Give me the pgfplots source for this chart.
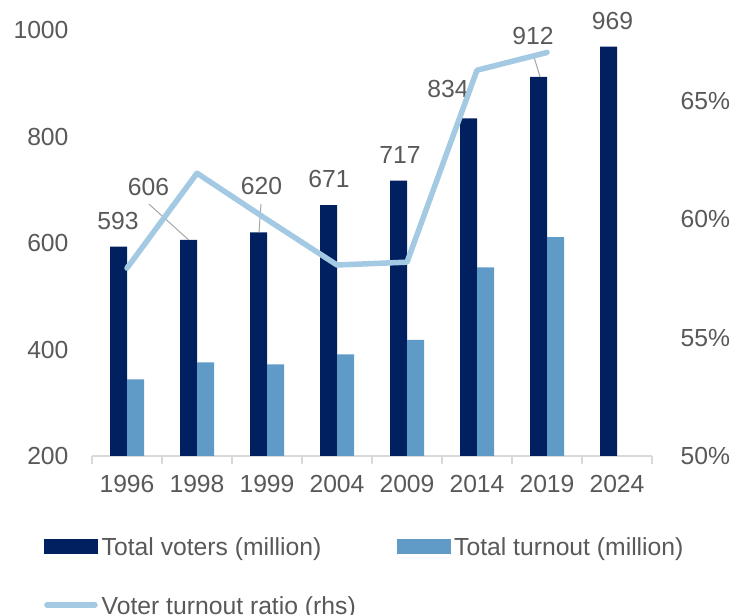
\documentclass[border=0pt]{standalone}
\usepackage{pgfplots}
\pgfplotsset{compat=1.18}
\usepackage{fontspec}
\setmainfont{Liberation Sans}
\definecolor{navy}{HTML}{002060}
\definecolor{midblue}{HTML}{5F9BC6}
\definecolor{lightblue}{HTML}{A3C9E3}
\definecolor{txt}{HTML}{595959}
\definecolor{axgray}{HTML}{D9D9D9}
\definecolor{leader}{HTML}{A6A6A6}
\newcommand{\cf}{\fontsize{24.8}{30}\selectfont}
\begin{document}
\begin{tikzpicture}
\useasboundingbox (0,0) rectangle (740bp,615bp);
\begin{axis}[
  at={(92bp,159bp)}, anchor=south west,
  scale only axis, width=560bp, height=426bp,
  xmin=-0.5, xmax=7.5, ymin=200, ymax=1000,
  ybar=0pt, bar width=17bp,
  axis x line*=bottom, axis y line*=left,
  x axis line style={draw=axgray, line width=1.5bp},
  y axis line style={draw=none},
  xtick={0,1,2,3,4,5,6,7},
  xticklabels={1996,1998,1999,2004,2009,2014,2019,2024},
  minor xtick={-0.5,0.5,1.5,2.5,3.5,4.5,5.5,6.5,7.5},
  xtick align=outside,
  major tick length=0pt, minor tick length=8bp,
  major x tick style={draw=none},
  minor x tick style={draw=axgray, line width=1.5bp},
  ytick={200,400,600,800,1000}, yticklabels={200,400,600,800,1000},
  ytick style={draw=none},
  tick label style={font=\cf, text=txt},
  xticklabel style={yshift=-16bp},
  yticklabel style={xshift=-20bp},
  clip=false,
]
\addplot[fill=navy, draw=none] coordinates {(0,593) (1,606) (2,620) (3,671) (4,717) (5,834) (6,912) (7,969)};
\addplot[fill=midblue, draw=none] coordinates {(0,344) (1,376) (2,372) (3,391) (4,418) (5,554) (6,611)};
\draw[leader, line width=1bp] (axis cs:0.314,673) -- (axis cs:0.879,606);
\draw[leader, line width=1bp] (axis cs:1.914,673) -- (axis cs:1.886,620);
\draw[leader, line width=1bp] (axis cs:5.804,954) -- (axis cs:5.90,912);
\begin{scope}[every node/.style={font=\cf, text=txt, inner sep=0pt, anchor=center}]
\node at (axis cs:-0.129,642) {593};
\node at (axis cs:0.307,705) {606};
\node at (axis cs:1.921,707) {620};
\node at (axis cs:2.886,721) {671};
\node at (axis cs:3.9,766) {717};
\node at (axis cs:4.586,889) {834};
\node at (axis cs:5.8,989) {912};
\node at (axis cs:6.936,1017) {969};
\end{scope}
\end{axis}
\begin{axis}[
  at={(92bp,159bp)}, anchor=south west,
  scale only axis, width=560bp, height=426bp,
  xmin=-0.5, xmax=7.5, ymin=50, ymax=68,
  axis x line=none, axis y line*=right,
  y axis line style={draw=none}, ytick style={draw=none},
  ytick={50,55,60,65}, yticklabels={50\%,55\%,60\%,65\%},
  major tick length=0pt,
  yticklabel style={font=\cf, text=txt, xshift=25bp},
  clip=false,
  legend columns=2,
  legend cell align=left,
  legend style={draw=none, fill=none, font=\cf, text=txt,
    at={(-0.0857,-0.192)}, anchor=north west, inner sep=0pt,
    row sep=39.7bp, nodes={inner xsep=4bp, inner ysep=0pt},
    /tikz/every even column/.append style={column sep=37bp}},
]
\addlegendimage{legend image code/.code={\fill[navy] (0bp,-5.5bp) rectangle (53bp,8.5bp);}}
\addlegendentry{Total voters (million)}
\addlegendimage{legend image code/.code={\fill[midblue] (0bp,-5.5bp) rectangle (53bp,8.5bp);}}
\addlegendentry{Total turnout (million)}
\addplot[lightblue, line width=5.5bp, line cap=round, line join=round,
  legend image code/.code={\draw[lightblue, line width=5.5bp, line cap=round] (2.5bp,2bp) -- (50.5bp,2bp);}]
  coordinates {(0,57.94) (1,61.95) (2,59.99) (3,58.07) (4,58.19) (5,66.3) (6,67.05)};
\addlegendentry{Voter turnout ratio (rhs)}
\end{axis}
\end{tikzpicture}
\end{document}
